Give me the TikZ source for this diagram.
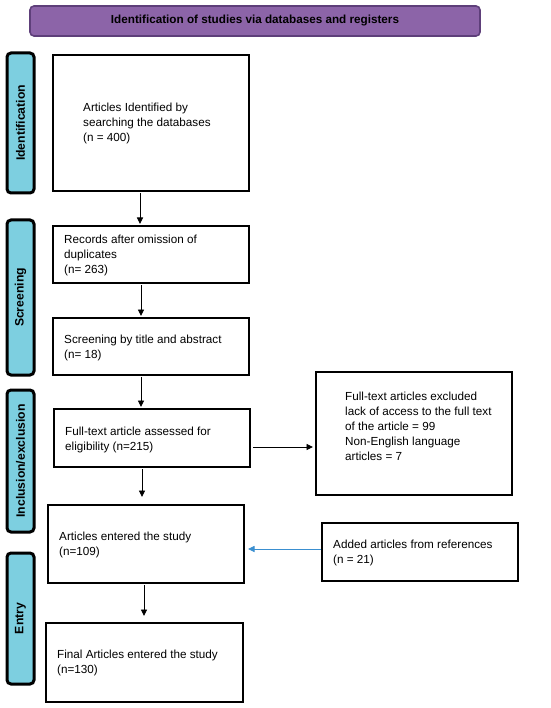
\documentclass[tikz,border=0pt]{standalone}
\usepackage{fontspec}
\setmainfont{Liberation Sans}
\usetikzlibrary{arrows.meta}
\definecolor{phase}{HTML}{7DCFE0}
\definecolor{titlefill}{HTML}{8C64A8}
\definecolor{titleline}{HTML}{5E3F7A}
\definecolor{bluearrow}{HTML}{3A8FD0}
\tikzset{
  box/.style={draw=black, line width=2.2pt, fill=white},
  phasebox/.style={draw=black, line width=3pt, fill=phase, rounded corners=4pt},
  phaselabel/.style={rotate=90, font=\fontsize{12.2}{14}\selectfont\bfseries},
  txt/.style={align=left, inner sep=0pt, font=\fontsize{11.7}{15}\selectfont},
  arr/.style={-{Triangle[length=6.5pt,width=6pt]}, line width=0.9pt},
}
\begin{document}
\begin{tikzpicture}[x=1pt,y=-1pt]
\useasboundingbox (0,0) rectangle (550,708);
% title
\draw[fill=titlefill, draw=titleline, line width=1.6pt, rounded corners=4pt] (30,6) rectangle (480,36);
\node[font=\fontsize{11.7}{14}\selectfont\bfseries] (title) at (255,21) {Identification of studies via databases and registers};
% phase labels
\draw[phasebox] (7,53) rectangle (34,193);
\node[phaselabel] (pid) at (20.5,123) {Identification};
\draw[phasebox] (7,220) rectangle (34,375);
\node[phaselabel] (pscr) at (20.5,297.5) {Screening};
\draw[phasebox] (7,390) rectangle (34,532);
\node[phaselabel] (pinc) at (20.5,461) {Inclusion/exclusion};
\draw[phasebox] (7,553) rectangle (34,684);
\node[phaselabel] (pent) at (20.5,618.5) {Entry};
% boxes
\draw[box] (53,55) rectangle (249,191);
\node[txt, anchor=west] (t1) at (83,123.5) {Articles Identified by\\searching the databases\\(n = 400)};

\draw[box] (53,226) rectangle (249,283);
\node[txt, anchor=west] (t2) at (64,255) {Records after omission of\\duplicates\\(n= 263)};

\draw[box] (53,318) rectangle (249,375);
\node[txt, anchor=west] (t3) at (64,348) {Screening by title and abstract\\(n= 18)};

\draw[box] (54,409) rectangle (250,467);
\coordinate (b4r) at (253,447);
\node[txt, anchor=west] (t4) at (65,440) {Full-text article assessed for\\eligibility (n=215)};

\draw[box] (316,372) rectangle (512,495);
\coordinate (r1l) at (313,447);
\node[txt, anchor=west] (tr1) at (345,426) {Full-text articles excluded\\lack of access to the full text\\of the article = 99\\Non-English language\\articles = 7};

\draw[box] (48,505) rectangle (244,583);
\coordinate (b5r) at (248,549);
\node[txt, anchor=west] (t5) at (59,545) {Articles entered the study\\(n=109)};

\draw[box] (322,523) rectangle (518,581);
\coordinate (r2l) at (321,549);
\node[txt, anchor=west] (tr2) at (333,553) {Added articles from references\\(n = 21)};

\draw[box] (46,623) rectangle (243,702);
\node[txt, anchor=west] (t6) at (57,663) {Final Articles entered the study\\(n=130)};

% connectors
\coordinate (a1s) at (140,193); \coordinate (a1e) at (140,224);
\draw[arr] (a1s) -- (a1e);
\coordinate (a2s) at (141,285); \coordinate (a2e) at (141,316);
\draw[arr] (a2s) -- (a2e);
\coordinate (a3s) at (141,377); \coordinate (a3e) at (141,407);
\draw[arr] (a3s) -- (a3e);
\coordinate (a4s) at (142,469); \coordinate (a4e) at (142,497);
\draw[arr] (a4s) -- (a4e);
\coordinate (a5s) at (144,585); \coordinate (a5e) at (144,616);
\draw[arr] (a5s) -- (a5e);
\draw[arr] (b4r) -- (r1l);
\draw[arr, draw=bluearrow, fill=bluearrow] (r2l) -- (b5r);
\end{tikzpicture}
\end{document}
